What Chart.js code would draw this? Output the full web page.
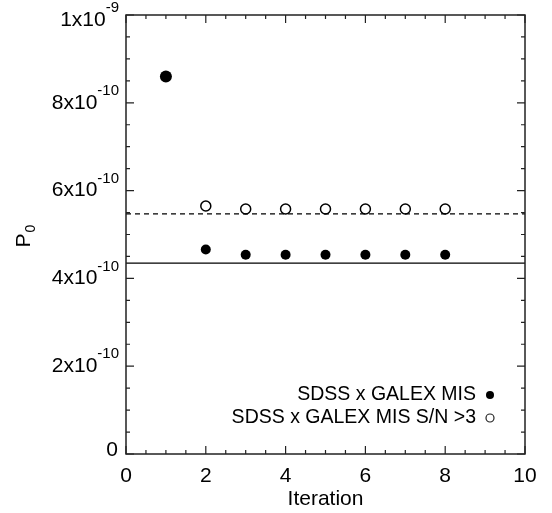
<!DOCTYPE html>
<html lang="en">
<head>
    <meta charset="UTF-8">
    <title>P0 vs Iteration</title>
    <script src="https://cdn.jsdelivr.net/npm/chart.js"></script>
    <style>
        body {
            margin: 0;
            padding: 0;
            background: #fff;
        }
        #chart {
            display: block;
        }
    </style>
</head>
<body>
    <canvas id="chart" width="552" height="513"></canvas>

    <script>
        // data
        const iterations = [1, 2, 3, 4, 5, 6, 7, 8];
        const p0All = [8.6e-10, 4.66e-10, 4.54e-10, 4.54e-10, 4.54e-10, 4.54e-10, 4.54e-10, 4.54e-10];
        const p0SN = [null, 5.65e-10, 5.58e-10, 5.58e-10, 5.58e-10, 5.58e-10, 5.58e-10, 5.58e-10];
        const lineAll = 4.35e-10;   // solid line
        const lineSN = 5.47e-10;    // dashed line
        const xRange = [0, 10];
        const yRange = [0, 1e-9];
        const legendLabels = ['SDSS x GALEX MIS', 'SDSS x GALEX MIS S/N >3'];

        const FONT = "'Liberation Sans', Arial, sans-serif";

        function pts(ys) {
            return iterations.map((x, i) => ({ x: x, y: ys[i] })).filter(p => p.y !== null);
        }

        // ticks, box, labels, legend (inward ticks on all four sides like the original)
        const frame = {
            id: 'frame',
            afterDraw(chart) {
                const ctx = chart.ctx;
                const a = chart.chartArea;
                const xs = chart.scales.x, ys = chart.scales.y;
                ctx.save();
                ctx.strokeStyle = '#222';
                ctx.lineWidth = 1.5;
                ctx.strokeRect(a.left, a.top, a.right - a.left, a.bottom - a.top);

                ctx.lineWidth = 1.2;
                for (let v = xRange[0]; v <= xRange[1] + 1e-9; v += 0.5) {
                    const px = xs.getPixelForValue(v);
                    const len = (Math.round(v * 2) % 4 === 0) ? 8 : 4;
                    ctx.beginPath();
                    ctx.moveTo(px, a.bottom); ctx.lineTo(px, a.bottom - len);
                    ctx.moveTo(px, a.top); ctx.lineTo(px, a.top + len);
                    ctx.stroke();
                }
                for (let k = 0; k <= 20; k++) {
                    const py = ys.getPixelForValue(k * 0.5e-10);
                    const len = (k % 4 === 0) ? 8 : 4;
                    ctx.beginPath();
                    ctx.moveTo(a.left, py); ctx.lineTo(a.left + len, py);
                    ctx.moveTo(a.right, py); ctx.lineTo(a.right - len, py);
                    ctx.stroke();
                }

                ctx.fillStyle = '#000';
                // x tick labels
                ctx.font = '21px ' + FONT;
                ctx.textAlign = 'center';
                ctx.textBaseline = 'middle';
                xs.ticks.forEach(t => {
                    ctx.fillText(String(t.value), xs.getPixelForValue(t.value), a.bottom + 22);
                });

                // y tick labels with superscript exponents
                ys.ticks.forEach(t => {
                    const n = Math.round(t.value * 1e10);
                    let py = ys.getPixelForValue(t.value);
                    const right = a.left - 7;
                    ctx.textBaseline = 'middle';
                    ctx.textAlign = 'right';
                    if (n === 0) {
                        ctx.font = '21px ' + FONT;
                        ctx.fillText('0', right - 1, py - 4);
                        return;
                    }
                    if (n === 10) py += 5; // top label sits a bit lower so it stays on the page
                    const base = (n === 10 ? '1' : String(n)) + 'x10';
                    const sup = n === 10 ? '-9' : '-10';
                    ctx.font = '15px ' + FONT;
                    const sw = ctx.measureText(sup).width;
                    ctx.fillText(sup, right, py - 12);
                    ctx.font = '21px ' + FONT;
                    ctx.fillText(base, right - sw, py);
                });

                // x title
                ctx.font = '21px ' + FONT;
                ctx.textAlign = 'center';
                ctx.fillText('Iteration', (a.left + a.right) / 2, a.bottom + 45);

                // y title P0, rotated
                ctx.save();
                ctx.translate(24, (a.top + a.bottom) / 2 + 2);
                ctx.rotate(-Math.PI / 2);
                ctx.textAlign = 'left';
                ctx.font = '21px ' + FONT;
                const pw = ctx.measureText('P').width;
                ctx.font = '14px ' + FONT;
                const zw = ctx.measureText('0').width;
                ctx.font = '21px ' + FONT;
                ctx.fillText('P', -(pw + zw) / 2, 0);
                ctx.font = '14px ' + FONT;
                ctx.fillText('0', -(pw + zw) / 2 + pw + 1, 7);
                ctx.restore();

                // legend
                ctx.font = '19.5px ' + FONT;
                ctx.textAlign = 'right';
                ctx.textBaseline = 'middle';
                const lx = a.right - 49, mx = a.right - 35;
                const rows = [a.bottom - 59, a.bottom - 36];
                legendLabels.forEach((lab, i) => {
                    ctx.fillStyle = '#000';
                    ctx.fillText(lab, lx, rows[i]);
                    ctx.beginPath();
                    ctx.arc(mx, rows[i], 4, 0, Math.PI * 2);
                    if (i === 0) { ctx.fill(); }
                    else { ctx.lineWidth = 1.2; ctx.stroke(); }
                });
                ctx.restore();
            }
        };

        const ctx = document.getElementById('chart').getContext('2d');
        const chart = new Chart(ctx, {
            type: 'scatter',
            data: {
                datasets: [
                    {
                        label: 'solid',
                        type: 'line',
                        data: [{ x: xRange[0], y: lineAll }, { x: xRange[1], y: lineAll }],
                        borderColor: '#000',
                        borderWidth: 1.2,
                        pointRadius: 0
                    },
                    {
                        label: 'dashed',
                        type: 'line',
                        data: [{ x: xRange[0], y: lineSN }, { x: xRange[1], y: lineSN }],
                        borderColor: '#000',
                        borderWidth: 1.2,
                        borderDash: [5, 4],
                        pointRadius: 0
                    },
                    {
                        label: legendLabels[0],
                        data: pts(p0All),
                        backgroundColor: '#000',
                        borderColor: '#000',
                        pointRadius: [6, 5, 5, 5, 5, 5, 5, 5],
                        borderWidth: 0
                    },
                    {
                        label: legendLabels[1],
                        data: pts(p0SN),
                        backgroundColor: '#fff',
                        borderColor: '#000',
                        pointRadius: 5,
                        borderWidth: 1.5
                    }
                ]
            },
            options: {
                responsive: false,
                animation: false,
                devicePixelRatio: 1,
                layout: { padding: { top: 15, right: 27, left: 0, bottom: 0 } },
                plugins: {
                    legend: { display: false },
                    tooltip: { enabled: false }
                },
                scales: {
                    x: {
                        type: 'linear',
                        min: xRange[0],
                        max: xRange[1],
                        ticks: { stepSize: 2, display: false },
                        grid: { display: false },
                        border: { display: false },
                        afterFit(scale) { scale.height = 59; }
                    },
                    y: {
                        type: 'linear',
                        min: yRange[0],
                        max: yRange[1],
                        ticks: { stepSize: 2e-10, display: false },
                        grid: { display: false },
                        border: { display: false },
                        afterFit(scale) { scale.width = 126; }
                    }
                }
            },
            plugins: [frame]
        });
    </script>
</body>
</html>
